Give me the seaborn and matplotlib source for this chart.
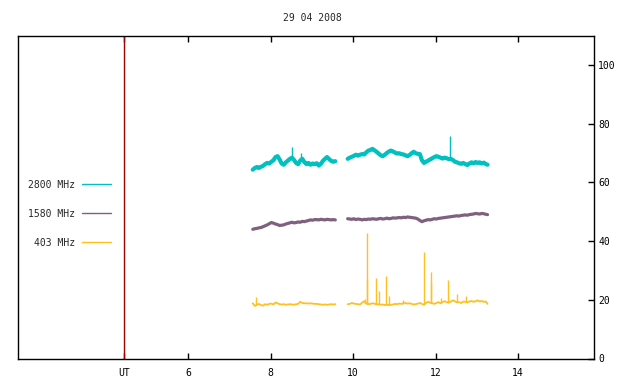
"""
Flujo solar en tres frecuencias (2800, 1580 y 403 MHz) del 29 04 2008.
Réplica de la gráfica estilo gnuplot con seaborn.
"""
import numpy as np
import pandas as pd
import matplotlib
matplotlib.use('Agg')
import matplotlib.pyplot as plt
from matplotlib.lines import Line2D
import seaborn as sns

# Datos
title = '29 04 2008'
bands = ['2800 MHz', '1580 MHz', '403 MHz']
ut_time = 4.44
x_ticks = [6, 8, 10, 12, 14]
y_ticks = [0, 20, 40, 60, 80, 100]

t_seg1 = [7.57, 7.62, 7.67, 7.72, 7.77, 7.82, 7.87, 7.92, 7.97, 8.02,
          8.07, 8.12, 8.17, 8.22, 8.27, 8.32, 8.37, 8.42, 8.47, 8.52,
          8.57, 8.62, 8.67, 8.72, 8.77, 8.82, 8.87, 8.92, 8.97, 9.02,
          9.07, 9.12, 9.17, 9.22, 9.27, 9.32, 9.37, 9.42, 9.47, 9.52,
          9.57]
t_seg2 = [9.87, 9.92, 9.97, 10.02, 10.07, 10.12, 10.17, 10.22, 10.27, 10.32,
          10.37, 10.42, 10.47, 10.52, 10.57, 10.62, 10.67, 10.72, 10.77, 10.82,
          10.87, 10.92, 10.97, 11.02, 11.07, 11.12, 11.17, 11.22, 11.27, 11.32,
          11.37, 11.42, 11.47, 11.52, 11.57, 11.62, 11.67, 11.72, 11.77, 11.82,
          11.87, 11.92, 11.97, 12.02, 12.07, 12.12, 12.17, 12.22, 12.27, 12.32,
          12.37, 12.42, 12.47, 12.52, 12.57, 12.62, 12.67, 12.72, 12.77, 12.82,
          12.87, 12.92, 12.97, 13.02, 13.07, 13.12, 13.17, 13.22, 13.26]

f2800_seg1 = [64.3, 64.9, 65.2, 64.9, 65.3, 65.6, 66.2, 66.6, 66.4, 67.0,
              67.5, 68.6, 68.9, 67.8, 66.4, 66.0, 66.8, 67.4, 68.0, 68.4,
              67.6, 66.6, 66.2, 67.4, 68.0, 66.9, 66.2, 66.6, 66.0, 66.4,
              66.2, 66.5, 65.7, 66.3, 67.3, 68.0, 68.6, 67.9, 67.3, 67.0,
              67.2]
f2800_seg2 = [68.0, 68.4, 68.7, 69.0, 69.4, 69.1, 69.4, 69.6, 69.5, 70.2,
              70.8, 71.0, 71.4, 70.9, 70.4, 69.8, 69.2, 68.9, 69.4, 70.0,
              70.5, 70.8, 70.5, 70.1, 69.8, 69.9, 69.6, 69.5, 69.2, 68.9,
              69.3, 69.9, 70.4, 69.9, 69.7, 69.6, 67.5, 66.6, 67.0, 67.4,
              67.8, 68.2, 68.6, 68.9, 68.7, 68.4, 68.1, 68.4, 68.2, 67.9,
              68.0, 67.6, 67.0, 66.8, 66.5, 66.3, 66.6, 66.2, 65.9, 66.4,
              66.8, 66.5, 66.9, 66.6, 66.8, 66.4, 66.7, 66.2, 66.0]

f1580_seg1 = [44.0, 44.2, 44.3, 44.5, 44.6, 44.9, 45.2, 45.5, 45.9, 46.3,
              46.1, 45.8, 45.6, 45.3, 45.4, 45.5, 45.8, 46.0, 46.2, 46.4,
              46.2, 46.3, 46.5, 46.4, 46.7, 46.6, 46.8, 47.0, 47.2, 47.1,
              47.3, 47.3, 47.2, 47.4, 47.3, 47.2, 47.4, 47.3, 47.2, 47.3,
              47.2]
f1580_seg2 = [47.6, 47.5, 47.4, 47.6, 47.3, 47.5, 47.4, 47.2, 47.4, 47.3,
              47.5, 47.4, 47.6, 47.5, 47.4, 47.6, 47.7, 47.5, 47.6, 47.8,
              47.6, 47.7, 47.9, 47.8, 47.9, 48.0, 47.9, 48.1, 48.0, 48.2,
              48.1, 48.0, 47.9, 47.8, 47.5, 47.0, 46.6, 46.9, 47.1, 47.3,
              47.2, 47.4, 47.6, 47.5, 47.7, 47.8, 47.9, 48.0, 48.1, 48.2,
              48.3, 48.4, 48.5, 48.6, 48.5, 48.7, 48.8, 48.9, 48.8, 49.0,
              49.1, 49.2, 49.4, 49.3, 49.2, 49.4, 49.3, 49.1, 49.0]

f403_seg1 = [18.8, 17.9, 18.3, 18.6, 18.2, 18.0, 18.5, 18.3, 18.6, 18.7,
             18.4, 19.1, 18.8, 18.5, 18.4, 18.5, 18.3, 18.4, 18.5, 18.4,
             18.3, 18.5, 18.6, 19.3, 18.9, 18.8, 18.8, 18.7, 18.8, 18.7,
             18.6, 18.6, 18.5, 18.4, 18.3, 18.4, 18.3, 18.4, 18.5, 18.4,
             18.5]
f403_seg2 = [18.5, 18.6, 18.9, 18.7, 18.6, 18.5, 18.4, 19.0, 19.5, 18.7,
             18.5, 18.6, 18.8, 18.7, 18.4, 18.5, 18.3, 18.4, 18.2, 18.3,
             18.2, 18.3, 18.4, 18.6, 18.5, 18.7, 18.6, 18.8, 18.9, 18.7,
             18.8, 18.6, 18.4, 18.5, 18.7, 18.9, 18.6, 18.3, 18.9, 19.3,
             19.0, 18.8, 18.6, 18.9, 19.2, 18.8, 19.3, 19.5, 19.2, 19.0,
             19.4, 19.8, 19.5, 19.1, 19.2, 18.9, 19.4, 19.3, 19.1, 19.4,
             19.6, 19.3, 19.5, 19.8, 19.4, 19.6, 19.3, 19.4, 18.6]

# picos aislados (tiempo, valor máximo)
spike2800_t = [8.51, 8.75, 12.36]
spike2800_v = [72.0, 69.9, 75.7]
spike403_t = [7.64, 10.30, 10.33, 10.35, 10.55, 10.62, 10.81, 10.88,
              11.20, 11.73, 11.88, 11.90, 12.12, 12.29, 12.53, 12.73]
spike403_v = [20.9, 20.3, 42.6, 27.0, 27.4, 23.0, 28.0, 21.3,
              19.9, 36.1, 25.7, 29.4, 20.6, 26.7, 22.0, 21.3]

colors = {'2800 MHz': '#00c0c0', '1580 MHz': '#7f607f', '403 MHz': '#ffc020'}
widths = {'2800 MHz': 3.0, '1580 MHz': 2.3, '403 MHz': 1.3}

series = {
    '2800 MHz': (f2800_seg1, f2800_seg2),
    '1580 MHz': (f1580_seg1, f1580_seg2),
    '403 MHz': (f403_seg1, f403_seg2),
}

rows = []
for band, (s1, s2) in series.items():
    for seg, (tt, vv) in enumerate([(t_seg1, s1), (t_seg2, s2)]):
        for t, v in zip(tt, vv):
            rows.append({'time': t, 'flux': v, 'band': band, 'segment': seg})
df = pd.DataFrame(rows)

sns.set_theme(style='white')
plt.rcParams['font.family'] = ['DejaVu Sans Mono', 'DejaVu Sans']
plt.rcParams['font.size'] = 7

fig = plt.figure(figsize=(6.4, 3.84), dpi=100)
ax = fig.add_axes([18 / 640, (384 - 358.5) / 384, 576 / 640, 323 / 384])

for band in bands:
    sub = df[df['band'] == band]
    sns.lineplot(data=sub, x='time', y='flux', units='segment', estimator=None,
                 color=colors[band], linewidth=widths[band], ax=ax, legend=False)

# picos finos
all_t = t_seg1 + t_seg2
base2800 = np.interp(spike2800_t, all_t, f2800_seg1 + f2800_seg2)
ax.vlines(spike2800_t, base2800, spike2800_v, color=colors['2800 MHz'], linewidth=1)
base403 = np.interp(spike403_t, all_t, f403_seg1 + f403_seg2)
ax.vlines(spike403_t, base403, spike403_v, color=colors['403 MHz'], linewidth=1)

ax.axvline(ut_time, color='#a00000', linewidth=1)

ax.set_xlim(1.88, 15.84)
ax.set_ylim(0, 110)
ax.set_xticks([ut_time] + x_ticks)
ax.set_xticklabels(['UT'] + [str(v) for v in x_ticks])
ax.set_yticks(y_ticks)
ax.set_yticklabels([str(v) for v in y_ticks])
ax.yaxis.tick_right()
ax.tick_params(axis='y', direction='in', length=4, width=1, color='black',
               left=False, right=True, labelleft=False, labelright=True, pad=3,
               labelsize=7, labelcolor='black')
ax.tick_params(axis='x', direction='in', length=4, width=1, color='black',
               top=True, bottom=True, pad=7, labelsize=7, labelcolor='black')
ax.set_xlabel('')
ax.set_ylabel('')
for sp in ax.spines.values():
    sp.set_visible(True)
    sp.set_color('black')
    sp.set_linewidth(1)
ax.grid(False)

handles = [Line2D([0], [0], color=colors[b], linewidth=1) for b in bands]
ax.legend(handles, bands, loc='upper left', bbox_to_anchor=(0.017, 0.553),
          markerfirst=False, frameon=False, handlelength=3.0, handletextpad=0.75,
          labelspacing=1.95, borderpad=0, borderaxespad=0, fontsize=7)

fig.text(312 / 640, 1 - 18 / 384, title, ha='center', va='center', fontsize=7)

fig.savefig('out.png', dpi=100)
plt.close(fig)
